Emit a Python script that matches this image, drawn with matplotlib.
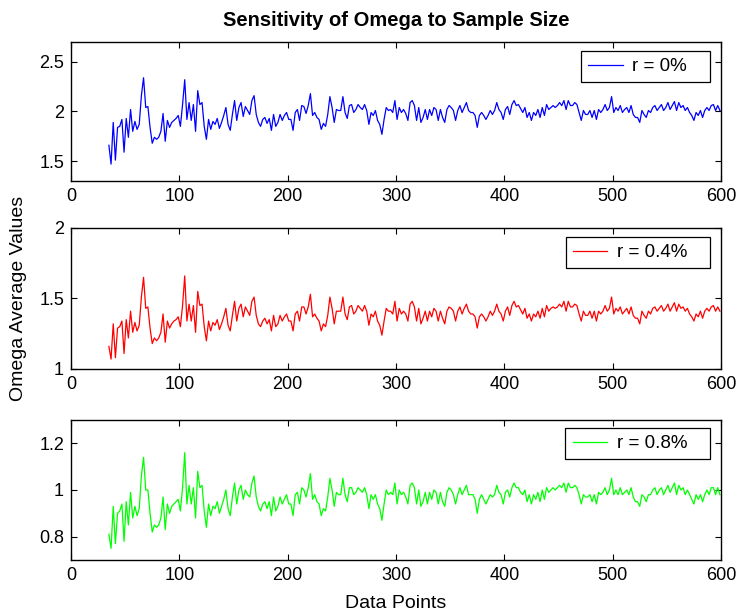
import numpy as np
import matplotlib
matplotlib.use('Agg')
import matplotlib.pyplot as plt
from matplotlib.ticker import FuncFormatter

# Valores promedio de Omega para r = 0%, 0.4% y 0.8% (muestras 35, 37, ..., 599)
omega_r0 = [
    1.66, 1.47, 1.89, 1.51, 1.84, 1.85, 1.92, 1.59, 1.93, 1.74, 2.02, 1.80,
    1.90, 1.82, 1.87, 2.16, 2.34, 2.04, 2.05, 1.84, 1.68, 1.74, 1.72, 1.74,
    1.80, 1.98, 1.70, 1.91, 1.84, 1.89, 1.91, 1.93, 1.96, 1.85, 2.07, 2.32,
    1.92, 2.09, 1.91, 2.07, 1.80, 2.21, 2.07, 2.09, 1.85, 1.72, 1.92, 1.82,
    1.90, 1.87, 1.93, 1.83, 1.89, 1.96, 2.04, 1.87, 1.81, 1.97, 2.11, 1.91,
    2.04, 2.09, 1.95, 2.05, 2.01, 1.97, 2.11, 2.16, 1.97, 1.89, 1.85, 1.92,
    1.94, 1.88, 1.93, 1.81, 1.97, 1.85, 1.89, 1.97, 1.91, 1.96, 1.99, 1.92,
    1.92, 1.81, 1.99, 2.02, 1.91, 2.06, 2.05, 1.98, 2.06, 2.18, 1.96, 1.99,
    1.94, 1.92, 1.82, 1.88, 1.85, 1.97, 2.15, 2.04, 1.89, 2.02, 2.01, 2.01,
    2.15, 1.99, 1.93, 2.06, 2.07, 1.99, 2.02, 2.07, 2.04, 2.02, 2.07, 2.01,
    1.87, 1.99, 1.96, 2.01, 1.91, 1.87, 1.77, 1.92, 2.04, 2.01, 2.02, 1.99,
    2.11, 1.92, 2.04, 1.99, 2.02, 1.98, 1.91, 2.09, 2.11, 2.06, 1.91, 2.04,
    1.89, 1.94, 2.02, 1.92, 2.02, 1.96, 2.04, 2.02, 1.91, 2.02, 1.94, 1.89,
    2.02, 2.06, 2.04, 2.01, 1.91, 2.01, 2.06, 1.99, 2.04, 2.09, 2.01, 1.99,
    1.99, 1.96, 1.84, 1.96, 1.99, 1.96, 1.92, 1.96, 2.01, 1.97, 2.01, 2.09,
    2.02, 1.99, 1.92, 2.02, 2.05, 1.97,
    2.07, 2.11, 2.06, 2.07, 2.03, 1.99, 2.04, 1.94, 1.99, 1.91, 1.99, 1.96,
    2.02, 1.94, 2.04, 1.96, 2.07, 2.02, 2.04, 2.06, 2.04, 2.06, 2.09, 2.06,
    2.11, 2.02, 2.11, 2.06, 2.06, 2.09, 2.07, 1.99, 1.91, 2.01, 1.97, 1.97,
    2.01, 1.94, 2.01, 1.92, 2.02, 1.99, 2.02, 2.07, 2.01, 2.04, 2.15, 1.99,
    2.04, 2.01, 2.06, 1.99, 2.02, 2.04, 1.99, 2.06, 1.97, 1.94, 1.94, 1.89,
    2.01, 1.97, 1.94, 2.01, 1.99, 2.04, 2.06, 2.01, 2.04, 2.07, 2.01, 2.04,
    2.09, 2.02, 2.06, 2.10, 2.01, 2.09, 2.04, 2.06, 2.01, 2.04, 1.99, 1.96,
    1.91, 1.99, 1.96, 2.01, 1.94, 2.01, 2.04, 2.01, 2.06, 2.07, 2.01, 2.06, 2.01,
]

omega_r04 = [
    1.16, 1.07, 1.32, 1.08, 1.29, 1.30, 1.34, 1.11, 1.35, 1.22, 1.41, 1.26,
    1.33, 1.27, 1.31, 1.51, 1.65, 1.43, 1.44, 1.29, 1.18, 1.22, 1.20, 1.22,
    1.26, 1.39, 1.19, 1.34, 1.29, 1.32, 1.34, 1.35, 1.37, 1.30, 1.45, 1.66,
    1.34, 1.46, 1.34, 1.45, 1.26, 1.55, 1.45, 1.46, 1.30, 1.20, 1.34, 1.27,
    1.33, 1.31, 1.35, 1.28, 1.32, 1.37, 1.43, 1.31, 1.27, 1.38, 1.48, 1.34,
    1.43, 1.46, 1.37, 1.44, 1.41, 1.38, 1.48, 1.51, 1.38, 1.32, 1.30, 1.34,
    1.36, 1.32, 1.35, 1.27, 1.38, 1.30, 1.32, 1.38, 1.34, 1.37, 1.39, 1.34,
    1.34, 1.27, 1.39, 1.41, 1.34, 1.44, 1.44, 1.39, 1.44, 1.53, 1.37, 1.39,
    1.36, 1.34, 1.27, 1.32, 1.30, 1.38, 1.51, 1.43, 1.32, 1.41, 1.41, 1.41,
    1.51, 1.39, 1.35, 1.44, 1.45, 1.39, 1.41, 1.45, 1.43, 1.41, 1.45, 1.41,
    1.31, 1.39, 1.37, 1.41, 1.34, 1.31, 1.24, 1.34, 1.43, 1.41, 1.41, 1.39,
    1.48, 1.34, 1.43, 1.39, 1.41, 1.39, 1.34, 1.46, 1.48, 1.44, 1.34, 1.43,
    1.32, 1.36, 1.41, 1.34, 1.41, 1.37, 1.43, 1.41, 1.34, 1.41, 1.36, 1.32,
    1.41, 1.44, 1.43, 1.41, 1.34, 1.41, 1.44, 1.39, 1.43, 1.46, 1.41, 1.39,
    1.39, 1.37, 1.29, 1.37, 1.39, 1.37, 1.34, 1.37, 1.41, 1.38, 1.41, 1.46,
    1.41, 1.39, 1.34, 1.41, 1.44, 1.38,
    1.45, 1.48, 1.44, 1.45, 1.42, 1.39, 1.43, 1.36, 1.39, 1.34, 1.39, 1.37,
    1.41, 1.36, 1.43, 1.37, 1.45, 1.41, 1.43, 1.44, 1.43, 1.44, 1.46, 1.44,
    1.48, 1.41, 1.48, 1.44, 1.44, 1.46, 1.45, 1.39, 1.34, 1.41, 1.38, 1.38,
    1.41, 1.36, 1.41, 1.34, 1.41, 1.39, 1.41, 1.45, 1.41, 1.43, 1.51, 1.39,
    1.43, 1.41, 1.44, 1.39, 1.41, 1.43, 1.39, 1.44, 1.38, 1.36, 1.36, 1.32,
    1.41, 1.38, 1.36, 1.41, 1.39, 1.43, 1.44, 1.41, 1.43, 1.45, 1.41, 1.43,
    1.46, 1.41, 1.44, 1.47, 1.41, 1.46, 1.43, 1.44, 1.41, 1.43, 1.39, 1.37,
    1.34, 1.39, 1.37, 1.41, 1.36, 1.41, 1.43, 1.41, 1.44, 1.45, 1.41, 1.44, 1.41,
]

omega_r08 = [
    0.81, 0.75, 0.93, 0.77, 0.90, 0.91, 0.94, 0.78, 0.95, 0.85, 0.99, 0.88,
    0.93, 0.89, 0.92, 1.06, 1.14, 1.00, 1.00, 0.90, 0.82, 0.85, 0.84, 0.85,
    0.88, 0.97, 0.83, 0.94, 0.90, 0.93, 0.94, 0.95, 0.96, 0.91, 1.01, 1.16,
    0.94, 1.02, 0.94, 1.01, 0.88, 1.08, 1.01, 1.02, 0.91, 0.84, 0.94, 0.89,
    0.93, 0.92, 0.95, 0.90, 0.93, 0.96, 1.00, 0.92, 0.89, 0.97, 1.03, 0.94,
    1.00, 1.02, 0.96, 1.00, 0.98, 0.97, 1.03, 1.06, 0.97, 0.93, 0.91, 0.94,
    0.95, 0.92, 0.95, 0.89, 0.97, 0.91, 0.93, 0.97, 0.94, 0.96, 0.98, 0.94,
    0.94, 0.89, 0.98, 0.99, 0.94, 1.01, 1.00, 0.97, 1.01, 1.07, 0.96, 0.98,
    0.95, 0.94, 0.89, 0.92, 0.91, 0.97, 1.05, 1.00, 0.93, 0.99, 0.98, 0.98,
    1.05, 0.98, 0.95, 1.01, 1.01, 0.98, 0.99, 1.01, 1.00, 0.99, 1.01, 0.98,
    0.92, 0.98, 0.96, 0.98, 0.94, 0.92, 0.87, 0.94, 1.00, 0.98, 0.99, 0.98,
    1.03, 0.94, 1.00, 0.98, 0.99, 0.97, 0.94, 1.02, 1.03, 1.01, 0.94, 1.00,
    0.93, 0.95, 0.99, 0.94, 0.99, 0.96, 1.00, 0.99, 0.94, 0.99, 0.95, 0.93,
    0.99, 1.01, 1.00, 0.98, 0.94, 0.98, 1.01, 0.98, 1.00, 1.02, 0.98, 0.98,
    0.98, 0.96, 0.90, 0.96, 0.98, 0.96, 0.94, 0.96, 0.98, 0.97, 0.98, 1.02,
    0.99, 0.98, 0.94, 0.99, 1.00, 0.97,
    1.01, 1.03, 1.01, 1.01, 0.99, 0.98, 1.00, 0.95, 0.98, 0.94, 0.98, 0.96,
    0.99, 0.95, 1.00, 0.96, 1.01, 0.99, 1.00, 1.01, 1.00, 1.01, 1.02, 1.01,
    1.03, 0.99, 1.03, 1.01, 1.01, 1.02, 1.01, 0.98, 0.94, 0.98, 0.97, 0.97,
    0.98, 0.95, 0.98, 0.94, 0.99, 0.98, 0.99, 1.01, 0.98, 1.00, 1.05, 0.98,
    1.00, 0.98, 1.01, 0.98, 0.99, 1.00, 0.98, 1.01, 0.97, 0.95, 0.95, 0.93,
    0.98, 0.97, 0.95, 0.98, 0.98, 1.00, 1.01, 0.98, 1.00, 1.01, 0.98, 1.00,
    1.02, 0.99, 1.01, 1.03, 0.98, 1.02, 1.00, 1.01, 0.98, 1.00, 0.98, 0.96,
    0.94, 0.98, 0.96, 0.98, 0.95, 0.98, 1.00, 0.98, 1.01, 1.01, 0.98, 1.01, 0.98,
]

etiquetas = ['r = 0%', 'r = 0.4%', 'r = 0.8%']
colores = ['#0000ff', '#ff0000', '#00ff00']
limites_y = [(1.3, 2.7), (1.0, 2.0), (0.7, 1.3)]
ticks_y = [[1.5, 2, 2.5], [1, 1.5, 2], [0.8, 1, 1.2]]
ticks_x = [0, 100, 200, 300, 400, 500, 600]

plt.rcParams['font.family'] = ['Liberation Sans', 'DejaVu Sans']


def graficar_omega(archivo_salida):
    """Dibuja los tres paneles de Omega frente al tamaño de la muestra."""
    series = [omega_r0, omega_r04, omega_r08]

    fig = plt.figure(figsize=(7.37, 6.16), dpi=100)
    # posiciones de los paneles en fracciones de la figura
    posiciones = [
        [0.0963, 0.7062, 0.882, 0.2256],
        [0.0963, 0.4010, 0.882, 0.2289],
        [0.0963, 0.0909, 0.882, 0.2273],
    ]
    anclas = [(1 - 11 / 650, 1 - 9 / 139), (1 - 11 / 650, 1 - 9 / 141), (1 - 11 / 650, 1 - 8 / 140)]

    for i, valores in enumerate(series):
        ax = fig.add_axes(posiciones[i])
        x = np.arange(35, 35 + 2 * len(valores), 2)
        # espacios al final para dejar aire a la derecha del recuadro
        ax.plot(x, valores, color=colores[i], linewidth=0.9,
                label=etiquetas[i] + '   ')
        ax.set_xlim(0, 600)
        ax.set_ylim(*limites_y[i])
        ax.set_xticks(ticks_x)
        ax.set_yticks(ticks_y[i])
        ax.yaxis.set_major_formatter(FuncFormatter(lambda v, p: '%g' % v))
        ax.tick_params(direction='in', top=True, right=True, length=4,
                       width=0.8, labelsize=13, pad=5)
        for lado in ax.spines.values():
            lado.set_linewidth(1.0)
        leg = ax.legend(loc='upper right', bbox_to_anchor=anclas[i],
                        borderaxespad=0, fancybox=False, framealpha=1,
                        edgecolor='black', fontsize=13.5, handlelength=1.85,
                        handletextpad=0.5, borderpad=0.38)
        leg.get_frame().set_linewidth(0.9)

    fig.text(0.5373, 1 - 21 / 616, 'Sensitivity of Omega to Sample Size',
             ha='center', va='center', fontsize=14.5, fontweight='bold')
    fig.text(19 / 737, 1 - 298 / 616, 'Omega Average Values', rotation=90,
             ha='center', va='center', fontsize=14)
    fig.text(0.5373, 1 - 604 / 616, 'Data Points', ha='center', va='center',
             fontsize=14)

    fig.savefig(archivo_salida, dpi=100)


if __name__ == "__main__":
    graficar_omega('out.png')
